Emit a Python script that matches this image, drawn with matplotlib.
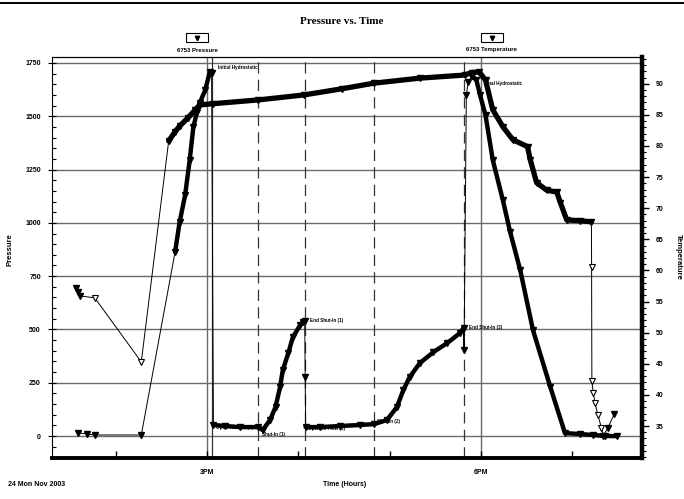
import numpy as np
import matplotlib

matplotlib.use("Agg")
import matplotlib.pyplot as plt
from matplotlib.ticker import MultipleLocator, FixedLocator
from matplotlib.lines import Line2D
from matplotlib.patches import Rectangle

plt.rcParams["font.family"] = ["Liberation Sans", "DejaVu Sans"]
plt.rcParams["font.weight"] = "bold"

# ---------------------------------------------------------------------------
# data (time in decimal hours of the day)
# ---------------------------------------------------------------------------
press_time = [13.59, 13.68, 13.77, 14.28, 14.65, 14.70, 14.76, 14.81, 14.85, 14.89,
              14.92, 14.98, 15.03, 15.05, 15.07, 15.20, 15.36, 15.56, 15.61, 15.69,
              15.75, 15.80, 15.83, 15.89, 15.94, 16.02, 16.05, 16.07, 16.075, 16.08,
              16.24, 16.46, 16.68, 16.83, 16.97, 17.08, 17.15, 17.22, 17.33, 17.48,
              17.63, 17.77, 17.81, 17.815, 17.84, 17.86, 17.90, 17.95, 17.99, 18.05,
              18.13, 18.24, 18.32, 18.43, 18.57, 18.76, 18.92, 19.09, 19.23, 19.36,
              19.49]
press_psi = [15, 10, 5, 5, 863, 1004, 1130, 1294, 1449, 1520,
             1562, 1623, 1707, 1702, 52, 47, 42, 42, 28, 75,
             136, 230, 310, 389, 464, 520, 535, 540, 277, 42,
             42, 47, 52, 56, 75, 136, 216, 277, 342, 394,
             436, 483, 507, 403, 1600, 1660, 1688, 1670, 1600, 1505,
             1294, 1107, 957, 779, 497, 230, 14, 9, 5, 0,
             0]

temp_time = [13.57, 13.59, 13.61, 13.77, 14.28, 14.58, 14.65, 14.70, 14.79, 14.87,
             14.92, 15.07, 15.56, 16.06, 16.48, 16.83, 17.33, 17.82, 17.90, 17.98,
             18.05, 18.13, 18.24, 18.35, 18.51, 18.54, 18.61, 18.72, 18.83, 18.87,
             18.94, 19.09, 19.21, 19.212, 19.215, 19.23, 19.25, 19.28, 19.32, 19.34,
             19.39, 19.46]
temp_f = [57.2, 56.5, 55.9, 55.6, 45.3, 80.8, 82.3, 83.2, 84.5, 85.8,
          86.6, 86.8, 87.4, 88.2, 89.2, 90.1, 90.9, 91.4, 91.8, 91.9,
          90.6, 85.8, 83.1, 81.0, 79.9, 77.8, 74.1, 72.9, 72.6, 70.9,
          68.1, 68.0, 67.8, 60.6, 42.2, 40.3, 38.7, 36.8, 34.7, 33.4,
          34.7, 36.9]

# test events (vertical marker lines)
event_times = [15.055, 15.56, 16.07, 16.83, 17.815]
event_solid = [True, False, False, False, False]

# event labels: (text, time, pressure)
event_labels = [
    ("Initial Hydrostatic", 15.03, 1707),
    ("Open To Flow (1)", 15.07, 52),
    ("Shut-In (1)", 15.56, 42),
    ("End Shut-In (1)", 16.07, 540),
    ("Open To Flow (2)", 16.08, 42),
    ("Shut-In (2)", 16.83, 56),
    ("End Shut-In (2)", 17.81, 507),
    ("Final Hydrostatic", 17.90, 1688),
]

hour_ticks = [15, 18]
hour_labels = ["3PM", "6PM"]

# ---------------------------------------------------------------------------
W, H = 684, 499
fig = plt.figure(figsize=(W / 100, H / 100), dpi=100)


def fx(px):
    return px / W


def fy(py):
    return 1 - py / H


ax = fig.add_axes([fx(52), fy(458), fx(642) - fx(52), fy(57) - fy(458)])
ax2 = ax.twinx()

ax.set_xlim(13.302, 19.764)
ax.set_ylim(-103, 1778)
ax2.set_ylim(29.86, 94.3)

grid_c = "#6a6a6a"
for v in range(0, 1751, 250):
    ax.axhline(v, color=grid_c, lw=1.0, zorder=1)
for h in hour_ticks:
    ax.axvline(h, color=grid_c, lw=1.0, zorder=1)

for t, solid in zip(event_times, event_solid):
    ax.axvline(t, color="#333333", lw=0.9, zorder=1,
               ls="-" if solid else (0, (9, 5)))

# pressure (left axis)
pt = np.array(press_time)
pp = np.array(press_psi)
ax.plot(pt, pp, color="black", lw=0.7, zorder=3)
for a, b in [(4, 13), (14, 28), (29, 43), (46, 61)]:
    ax.plot(pt[a:b], pp[a:b], color="black", lw=3.2, zorder=3,
            solid_capstyle="round")
ax.plot(pt, pp, ls="none", marker="v", ms=3.8, mfc="black", mec="black",
        zorder=4)

# temperature (right axis)
tt = np.array(temp_time)
tf = np.array(temp_f)
ax2.plot(tt, tf, color="black", lw=0.7, zorder=3)
ax2.plot(tt[5:33], tf[5:33], color="black", lw=3.8, zorder=3,
         solid_capstyle="round")
open_idx = [3, 4, 33, 34, 35, 36, 37, 38]
filled_idx = [i for i in range(len(tt)) if i not in open_idx]
ax2.plot(tt[open_idx], tf[open_idx], ls="none", marker="v", ms=3.8,
         mfc="white", mec="black", mew=0.8, zorder=4)
ax2.plot(tt[filled_idx], tf[filled_idx], ls="none", marker="v", ms=3.8,
         mfc="black", mec="black", zorder=4)

# event annotations
offsets = {
    "Initial Hydrostatic": (6, 3),
    "Open To Flow (1)": (2, -2),
    "Shut-In (1)": (3, -5),
    "End Shut-In (1)": (4, 0),
    "Open To Flow (2)": (2, -1),
    "Shut-In (2)": (2, 2),
    "End Shut-In (2)": (4, 0),
    "Final Hydrostatic": (9, -5),
}
for text, t, p in event_labels:
    dx, dy = offsets[text]
    ax.annotate(text, xy=(t, p), xytext=(dx, dy), textcoords="offset points",
                fontsize=3.3, ha="left", va="center", zorder=5,
                arrowprops=dict(arrowstyle="-", lw=0.5, color="black",
                                shrinkA=0, shrinkB=0))

# axes styling
for s in ["left", "top"]:
    ax.spines[s].set_linewidth(0.8)
ax.spines["right"].set_visible(False)
ax.spines["bottom"].set_linewidth(2.6)
ax2.spines["right"].set_linewidth(3.2)
ax2.spines["bottom"].set_linewidth(2.6)
ax2.spines["left"].set_visible(False)
ax2.spines["top"].set_linewidth(0.8)

ax.yaxis.set_major_locator(MultipleLocator(250))
ax.yaxis.set_minor_locator(MultipleLocator(50))
ax.tick_params(axis="y", which="major", direction="inout", length=6, width=0.8,
               labelsize=5, pad=5)
ax.tick_params(axis="y", which="minor", direction="in", length=3, width=0.8)

ax.xaxis.set_major_locator(FixedLocator(hour_ticks))
ax.set_xticklabels(hour_labels)
ax.xaxis.set_minor_locator(MultipleLocator(1))
ax.tick_params(axis="x", which="both", direction="in", length=5, width=1.0,
               labelsize=5, pad=8)

ax2.yaxis.set_major_locator(FixedLocator(range(35, 91, 5)))
ax2.yaxis.set_minor_locator(FixedLocator(range(30, 95)))
ax2.tick_params(axis="y", which="major", direction="out", length=5, width=1.0,
                labelsize=5, pad=5)
ax2.tick_params(axis="y", which="minor", direction="out", length=3, width=0.8)

for lab in ax.get_yticklabels() + ax.get_xticklabels() + ax2.get_yticklabels():
    lab.set_fontweight("bold")

# titles and labels
fig.text(fx(342), fy(22), "Pressure vs. Time", ha="center", va="center",
         fontsize=8, fontweight="bold", family=["Liberation Serif", "DejaVu Serif"])
fig.text(fx(10), fy(250), "Pressure", rotation=90, ha="center", va="center",
         fontsize=5.5, fontweight="bold")
fig.text(fx(678), fy(257), "Temperature", rotation=270, ha="center",
         va="center", fontsize=5.5, fontweight="bold")
fig.text(fx(345), fy(484), "Time (Hours)", ha="center", va="center",
         fontsize=5, fontweight="bold")
fig.text(fx(8), fy(484), "24 Mon Nov 2003", ha="left", va="center",
         fontsize=5, fontweight="bold")

# gauge legend boxes above the plot
for cx, label in [(197, "6753 Pressure"), (492, "6753 Temperature")]:
    fig.add_artist(Rectangle((fx(cx - 11), fy(42)), fx(22), fy(33) - fy(42),
                             transform=fig.transFigure, fill=False, lw=0.8,
                             ec="black"))
    fig.add_artist(Line2D([fx(cx)], [fy(37.5)], marker="v", ms=3.2,
                          color="black", transform=fig.transFigure))
    fig.text(fx(cx), fy(50), label, ha="center", va="center", fontsize=4.3,
             fontweight="bold")

# page edge from the scan
fig.add_artist(Line2D([0, 1], [fy(3), fy(3)], color="black", lw=1.4,
                      transform=fig.transFigure))

fig.savefig("out.png", dpi=100)
